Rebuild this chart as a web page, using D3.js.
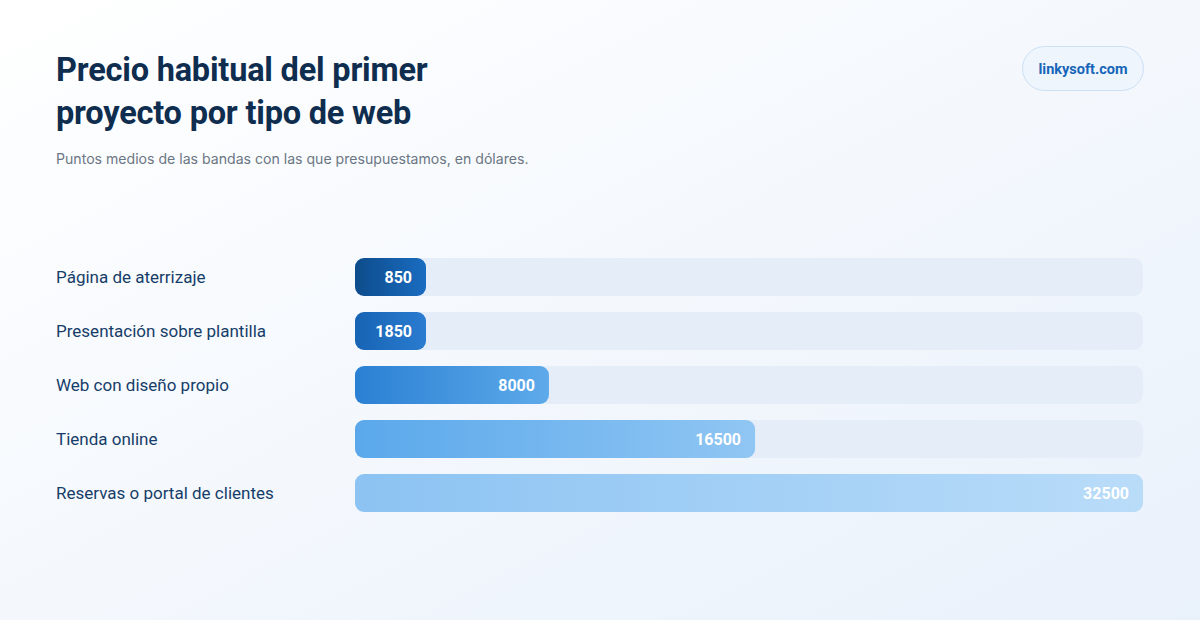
<!DOCTYPE html>
<html>
<head>
<meta charset="utf-8">
<script src="https://cdn.jsdelivr.net/npm/d3@7"></script>
<style>
  html, body { margin: 0; padding: 0; }
  body { width: 1200px; height: 620px; overflow: hidden; }
  svg { display: block; font-family: Roboto, "Noto Sans", sans-serif; }
</style>
</head>
<body>
<div class="chart"></div>
<script>
// datos
const categories = [
  'Página de aterrizaje',
  'Presentación sobre plantilla',
  'Web con diseño propio',
  'Tienda online',
  'Reservas o portal de clientes'
];
const values = [850, 1850, 8000, 16500, 32500];
// colores de cada barra (inicio, fin)
const barStart = ['#0d4c8b', '#1763b4', '#2a80d3', '#5aa8eb', '#8cc3f2'];
const barEnd = ['#1a6cc1', '#2a7cd0', '#5eaaea', '#90c6f3', '#b9dcf9'];

const W = 1200, H = 620;
const svg = d3.select('.chart').append('svg')
  .attr('width', W).attr('height', H);

const defs = svg.append('defs');

// fondo
const bg = defs.append('linearGradient').attr('id', 'bg')
  .attr('x1', '0%').attr('y1', '0%').attr('x2', '100%').attr('y2', '100%');
bg.append('stop').attr('offset', '0%').attr('stop-color', '#ffffff');
bg.append('stop').attr('offset', '100%').attr('stop-color', '#e9f1fb');
svg.append('rect').attr('width', W).attr('height', H).attr('fill', 'url(#bg)');

// degradados de barras
values.forEach((v, i) => {
  const g = defs.append('linearGradient').attr('id', 'bar' + i)
    .attr('x1', '0%').attr('x2', '100%').attr('y1', '0%').attr('y2', '0%');
  g.append('stop').attr('offset', '0%').attr('stop-color', barStart[i]);
  g.append('stop').attr('offset', '100%').attr('stop-color', barEnd[i]);
});

// título
svg.append('text')
  .attr('x', 56).attr('y', 81)
  .attr('font-size', 32.5).attr('font-weight', 700).attr('fill', '#0f2d4f')
  .attr('letter-spacing', -0.2)
  .text('Precio habitual del primer');
svg.append('text')
  .attr('x', 56).attr('y', 124)
  .attr('font-size', 32.5).attr('font-weight', 700).attr('fill', '#0f2d4f')
  .attr('letter-spacing', -0.2)
  .text('proyecto por tipo de web');
svg.append('text')
  .attr('x', 56).attr('y', 164)
  .attr('font-size', 14.1).attr('fill', '#6b7684')
  .attr('font-family', 'Inter, Roboto, sans-serif')
  .text('Puntos medios de las bandas con las que presupuestamos, en dólares.');

// etiqueta de marca
svg.append('rect')
  .attr('x', 1022.5).attr('y', 46.5).attr('width', 121).attr('height', 44)
  .attr('rx', 22).attr('fill', '#eef5fd').attr('stroke', '#cde0f4');
svg.append('text')
  .attr('x', 1083).attr('y', 74).attr('text-anchor', 'middle')
  .attr('font-size', 14.5).attr('font-weight', 700).attr('fill', '#1765b8')
  .text('linkysoft.com');

// escalas
const x0 = 355, x1 = 1143;
const x = d3.scaleLinear().domain([0, d3.max(values)]).range([0, x1 - x0]);
const y = d3.scaleBand().domain(categories).range([258, 512]).paddingInner(16 / 54).paddingOuter(0);
// los valores pequeños se ven con un ancho mínimo para que quepa la cifra
const minW = 71;

const rows = svg.selectAll('.row').data(categories).join('g')
  .attr('class', 'row')
  .attr('transform', d => `translate(0,${y(d)})`);

rows.append('text')
  .attr('x', 56).attr('y', y.bandwidth() / 2).attr('dy', '0.35em')
  .attr('font-size', 17).attr('fill', '#163d69')
  .text(d => d);

rows.append('rect')
  .attr('x', x0).attr('width', x1 - x0).attr('height', y.bandwidth())
  .attr('rx', 9).attr('fill', '#e5edf8');

rows.append('rect')
  .attr('x', x0)
  .attr('width', (d, i) => Math.max(minW, x(values[i])))
  .attr('height', y.bandwidth())
  .attr('rx', 9)
  .attr('fill', (d, i) => `url(#bar${i})`);

rows.append('text')
  .attr('x', (d, i) => x0 + Math.max(minW, x(values[i])) - 14)
  .attr('y', y.bandwidth() / 2).attr('dy', '0.35em')
  .attr('text-anchor', 'end')
  .attr('font-size', 16).attr('font-weight', 700).attr('fill', '#ffffff')
  .text((d, i) => values[i]);
</script>
</body>
</html>
